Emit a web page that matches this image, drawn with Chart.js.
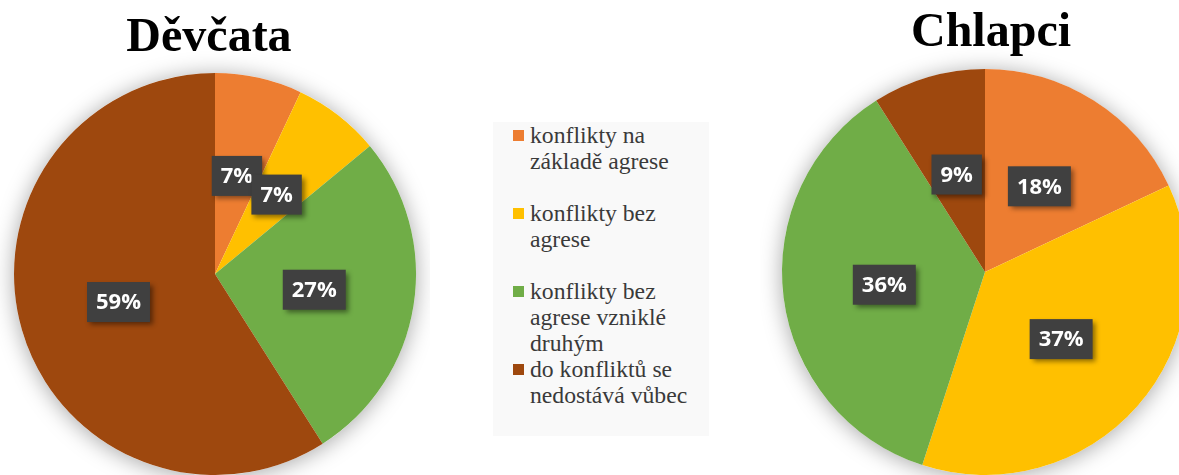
<!DOCTYPE html>
<html lang="cs">
<head>
  <meta charset="UTF-8">
  <title>Konflikty - Děvčata a Chlapci</title>
  <script src="https://cdn.jsdelivr.net/npm/chart.js"></script>
  <style>
    html, body { margin: 0; padding: 0; background: #fff; overflow: hidden; }
    body { width: 1179px; height: 475px; position: relative; }
    #grafDivky { position: absolute; left: 0; top: 0; }
    #grafChlapci { position: absolute; left: 760px; top: 0; }
    .nadpis {
      position: absolute; font-family: "Liberation Serif", "Times New Roman", serif;
      font-size: 48px; font-weight: bold; line-height: 48px; color: #000;
      width: 300px; text-align: center; white-space: nowrap;
    }
    #nadpisDivky { left: 59px; top: 11px; }
    #nadpisChlapci { left: 841px; top: 6px; }
    #legenda {
      position: absolute; left: 493px; top: 122px; width: 216px; height: 314px;
      background: #f9f9f9; box-sizing: border-box;
      font-family: "Liberation Serif", "Times New Roman", serif; font-size: 23.7px;
      line-height: 26px; color: #3a3a3a;
    }
    .polozka { position: relative; padding-left: 37px; min-height: 78px; width: 176px; }
    .ctverec { position: absolute; left: 20px; top: 8px; width: 11px; height: 11px; }
  </style>
</head>
<body>
  <canvas id="grafDivky" width="430" height="475"></canvas>
  <canvas id="grafChlapci" width="450" height="475"></canvas>
  <div class="nadpis" id="nadpisDivky">Děvčata</div>
  <div class="nadpis" id="nadpisChlapci">Chlapci</div>
  <div id="legenda"></div>

  <script>
    // kategorie a hodnoty (v %)
    const kategorie = [
      'konflikty na základě agrese',
      'konflikty bez agrese',
      'konflikty bez agrese vzniklé druhým',
      'do konfliktů se nedostává vůbec'
    ];
    const divky = [7, 7, 27, 59];
    const chlapci = [18, 37, 36, 9];
    const barvy = ['#ED7D31', '#FFC000', '#70AD47', '#9E480E'];

    // stín pod celým koláčem
    const stinKolace = {
      id: 'stinKolace',
      beforeDatasetsDraw(chart) {
        const arc = chart.getDatasetMeta(0).data[0];
        if (!arc) return;
        const c = chart.ctx;
        c.save();
        c.shadowColor = 'rgba(0,0,0,0.35)';
        c.shadowBlur = 22;
        c.shadowOffsetY = 2;
        c.fillStyle = '#ffffff';
        c.beginPath();
        c.arc(arc.x, arc.y, arc.outerRadius, 0, Math.PI * 2);
        c.fill();
        c.restore();
      }
    };

    // popisky v tmavých rámečcích
    const popisky = {
      id: 'popisky',
      afterDatasetsDraw(chart) {
        const c = chart.ctx;
        const data = chart.data.datasets[0].data;
        const soucet = data.reduce((a, b) => a + b, 0);
        chart.getDatasetMeta(0).data.forEach((arc, i) => {
          const p = arc.getCenterPoint();
          const text = Math.round(data[i] / soucet * 100) + '%';
          c.save();
          c.font = 'bold 22px "Open Sans", sans-serif';
          const w = c.measureText(text).width + 18;
          const h = 40;
          c.shadowColor = 'rgba(0,0,0,0.45)';
          c.shadowBlur = 5;
          c.shadowOffsetX = 3;
          c.shadowOffsetY = 3;
          c.fillStyle = '#404040';
          c.fillRect(p.x - w / 2, p.y - h / 2, w, h);
          c.shadowColor = 'transparent';
          c.fillStyle = '#ffffff';
          c.textAlign = 'center';
          c.textBaseline = 'middle';
          c.fillText(text, p.x, p.y + 1);
          c.restore();
        });
      }
    };

    const vytvorGraf = (id, hodnoty, odsazeni) => {
      return new Chart(document.getElementById(id), {
        type: 'pie',
        data: {
          labels: kategorie,
          datasets: [{
            data: hodnoty,
            backgroundColor: barvy,
            borderWidth: 0
          }]
        },
        options: {
          responsive: false,
          animation: false,
          layout: { padding: { top: odsazeni } },
          plugins: {
            legend: { display: false },
            tooltip: { enabled: false }
          }
        },
        plugins: [stinKolace, popisky]
      });
    };

    vytvorGraf('grafDivky', divky, 73);
    vytvorGraf('grafChlapci', chlapci, 69);

    // legenda uprostřed
    const legenda = document.getElementById('legenda');
    kategorie.forEach((k, i) => {
      const div = document.createElement('div');
      div.className = 'polozka';
      div.innerHTML = '<span class="ctverec" style="background:' + barvy[i] + '"></span>' + k;
      legenda.appendChild(div);
    });
  </script>
</body>
</html>
